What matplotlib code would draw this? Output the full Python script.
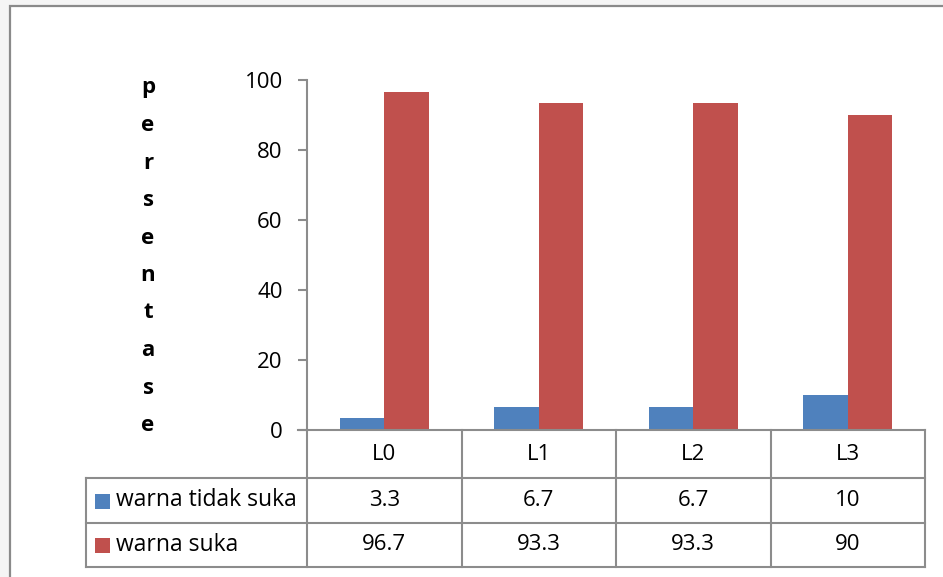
import matplotlib
matplotlib.use("Agg")
import matplotlib.pyplot as plt
from matplotlib.patches import Rectangle
import numpy as np

# Data
categories = ["L0", "L1", "L2", "L3"]
series_names = ["warna tidak suka", "warna suka"]
tidak_suka = [3.3, 6.7, 6.7, 10]
suka = [96.7, 93.3, 93.3, 90]
y_ticks = [0, 20, 40, 60, 80, 100]
y_label = "persentase"

colors = ["#4F81BD", "#C0504D"]
grid_gray = "#8C8C8C"
font = ["Open Sans", "DejaVu Sans"]
plt.rcParams["font.family"] = font

W, H = 943, 577
fig = plt.figure(figsize=(W / 100, H / 100), dpi=100)
fig.patch.set_facecolor("#F5F5F5")

def fx(px):
    return px / W

def fy(py):
    return 1 - py / H

# chart frame
frame = Rectangle((fx(10), fy(H + 20)), fx(W + 20 - 10), fy(6) - fy(H + 20),
                  transform=fig.transFigure, facecolor="white",
                  edgecolor="#8A8A8A", linewidth=1.6, zorder=-10)
fig.patches.append(frame)

ax_left, ax_right, ax_top, ax_bottom = 307, 925, 80, 430
ax = fig.add_axes([fx(ax_left), fy(ax_bottom), fx(ax_right - ax_left),
                   (ax_bottom - ax_top) / H])
ax.set_facecolor("none")
ax.set_zorder(5)

x = np.arange(len(categories))
bw = 0.288
ax.bar(x - bw / 2, tidak_suka, width=bw, color=colors[0], zorder=2)
ax.bar(x + bw / 2, suka, width=bw, color=colors[1], zorder=2)

ax.set_xlim(-0.5, len(categories) - 0.5)
ax.set_ylim(0, 100)
ax.set_yticks(y_ticks)
ax.set_yticklabels([str(v) for v in y_ticks], fontsize=16)
ax.set_xticks([])
for side in ["top", "right", "bottom"]:
    ax.spines[side].set_visible(False)
ax.spines["left"].set_color(grid_gray)
ax.spines["left"].set_linewidth(1.5)
ax.tick_params(axis="y", direction="out", length=6.5, width=1.5,
               color=grid_gray, pad=11, labelcolor="black")

# data table under the plot
trans = ax.get_xaxis_transform()
rows_px = [430, 478, 523, 567]
rows = [(ax_bottom - r) / (ax_bottom - ax_top) for r in rows_px]
legend_left = -0.5 + (86 - ax_left) / (ax_right - ax_left) * len(categories)
lw = 1.5
kw = dict(color=grid_gray, lw=lw, clip_on=False, transform=trans,
          solid_capstyle="projecting", zorder=3)

# horizontal lines
ax.plot([-0.5 - 0.06, 3.5], [rows[0]] * 2, **kw)
for r in rows[1:]:
    ax.plot([legend_left, 3.5], [r] * 2, **kw)
# vertical lines
for b in np.arange(-0.5, len(categories), 1.0):
    ax.plot([b, b], [rows[0], rows[-1]], **kw)
ax.plot([legend_left, legend_left], [rows[1], rows[-1]], **kw)

# header row
for xi, c in zip(x, categories):
    ax.text(xi, (rows[0] + rows[1]) / 2, c, transform=trans, ha="center",
            va="center", fontsize=16)
# value rows with legend keys
series_vals = [tidak_suka, suka]
for i, (name, vals) in enumerate(zip(series_names, series_vals)):
    yc = (rows[i + 1] + rows[i + 2]) / 2
    for xi, v in zip(x, vals):
        ax.text(xi, yc, f"{v:g}", transform=trans, ha="center", va="center",
                fontsize=16)
    sx = fx(95)
    row_mid_px = (rows_px[i + 1] + rows_px[i + 2]) / 2
    key = Rectangle((sx, fy(row_mid_px + 8)), fx(15), 15 / H,
                    transform=fig.transFigure, facecolor=colors[i],
                    edgecolor="none")
    fig.patches.append(key)
    fig.text(fx(116), fy(row_mid_px), name, ha="left", va="center",
             fontsize=16.5)

# vertical axis title, one letter per line
for k, ch in enumerate(y_label):
    fig.text(fx(148), fy(88 + 37.5 * k), ch, ha="center", va="center",
             fontsize=16, fontweight="bold")

fig.savefig("out.png", dpi=100)
